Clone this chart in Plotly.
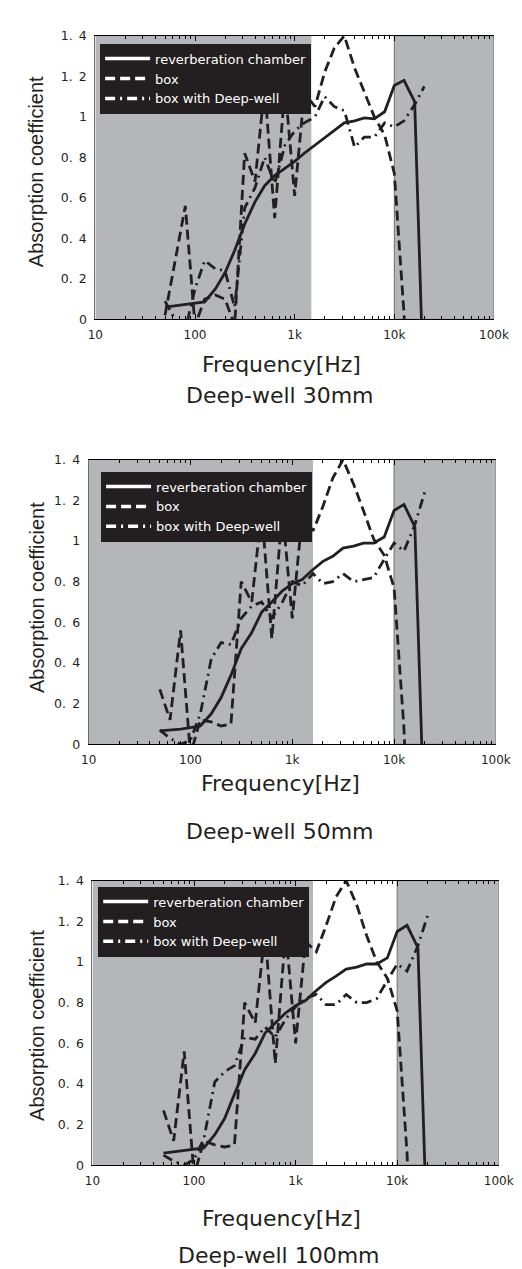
import plotly.graph_objects as go

# ---------------- data (1/3-octave band centre frequencies, Hz) ----------------
FREQ = [50, 63, 80, 100, 125, 160, 200, 250, 315, 400, 500, 630, 800, 1000,
        1250, 1600, 2000, 2500, 3150, 4000, 5000, 6300, 8000, 10000, 12500,
        16000, 20000]

# Deep-well 30mm
REVERB_30 = [0.06, 0.066, 0.072, 0.078, 0.086, 0.15, 0.23, 0.34, 0.47, 0.58,
             0.66, 0.71, 0.745, 0.78, 0.82, 0.86, 0.90, 0.935, 0.97, 0.98,
             0.995, 0.99, 1.025, 1.155, 1.18, 1.075, -0.46]
BOX_30 = [0.02, 0.28, 0.56, -0.03, 0.10, 0.12, 0.10, -0.03, 0.82, 0.68,
          1.15, 0.50, 1.15, 0.61, 1.12, 1.05, 1.22, 1.34, 1.40, 1.24,
          1.12, 1.00, 0.91, 0.72, 0.03, -1.0, None]
BOXDW_30 = [0.09, 0.0, -0.05, 0.15, 0.29, 0.25, 0.24, 0.06, 0.55, 0.65,
            0.80, 0.67, 0.86, 0.93, 0.97, 1.00, 1.10, 1.05, 1.03, 0.85,
            0.90, 0.90, 0.97, 0.95, 0.98, 1.06, 1.15]

# Deep-well 50mm
REVERB_50 = [0.066, 0.07, 0.075, 0.082, 0.09, 0.15, 0.23, 0.34, 0.47, 0.55,
             0.65, 0.70, 0.755, 0.79, 0.81, 0.86, 0.90, 0.925, 0.965, 0.975,
             0.99, 0.99, 1.02, 1.15, 1.18, 1.07, -0.46]
BOX_50 = [0.27, 0.12, 0.56, -0.05, 0.12, 0.11, 0.09, 0.10, 0.80, 0.70,
          1.15, 0.52, 1.15, 0.62, 1.12, 1.05, 1.17, 1.31, 1.40, 1.28,
          1.15, 1.01, 0.93, 0.77, 0.08, -1.2, None]
BOXDW_50 = [0.07, 0.03, 0.0, 0.02, 0.15, 0.42, 0.50, 0.49, 0.62, 0.68,
            0.70, 0.62, 0.70, 0.80, 0.78, 0.84, 0.79, 0.80, 0.84, 0.80,
            0.81, 0.82, 0.91, 0.99, 0.95, 1.08, 1.24]

# Deep-well 100mm
REVERB_100 = [0.06, 0.066, 0.072, 0.078, 0.085, 0.15, 0.23, 0.35, 0.47, 0.55,
              0.65, 0.70, 0.75, 0.785, 0.81, 0.86, 0.90, 0.93, 0.965, 0.975,
              0.99, 0.99, 1.02, 1.15, 1.18, 1.07, -0.46]
BOX_100 = [0.27, 0.12, 0.56, -0.05, 0.12, 0.10, 0.09, 0.10, 0.80, 0.70,
           1.15, 0.50, 1.15, 0.60, 1.10, 1.05, 1.18, 1.32, 1.40, 1.28,
           1.13, 1.00, 0.92, 0.76, 0.06, -1.2, None]
BOXDW_100 = [0.05, 0.02, 0.0, 0.03, 0.13, 0.41, 0.46, 0.49, 0.63, 0.62,
             0.68, 0.63, 0.72, 0.78, 0.82, 0.84, 0.79, 0.79, 0.84, 0.80,
             0.80, 0.82, 0.91, 0.99, 0.955, 1.08, 1.23]

PANEL_TITLES = ["Deep-well 30mm", "Deep-well 50mm", "Deep-well 100mm"]
SERIES_NAMES = ["reverberation chamber", "box", "box with Deep-well"]
REVERB = [REVERB_30, REVERB_50, REVERB_100]
BOX = [BOX_30, BOX_50, BOX_100]
BOXDW = [BOXDW_30, BOXDW_50, BOXDW_100]

X_TICK_VALS = [10, 100, 1000, 10000, 100000]
X_TICK_TEXT = ["10", "100", "1k", "10k", "100k"]
Y_TICK_VALS = [0, 0.2, 0.4, 0.6, 0.8, 1.0, 1.2, 1.4]
Y_TICK_TEXT = ["0", "0.\u20022", "0.\u20024", "0.\u20026", "0.\u20028", "1",
               "1.\u20022", "1.\u20024"]
X_TITLE = "Frequency[Hz]"
Y_TITLE = "Absorption coefficient"

# shaded (gray) frequency bands per panel: [low band end, high band start]
GRAY_LOW_END = [1470, 1600, 1485]
GRAY_HIGH_START = 10000

# ---------------- layout (pixel geometry) ----------------
W, H = 522, 1269
PANELS = [
    dict(l=83, r=500, t=20, b=307, leg=(88, 28), ytit=(21, 158), xtit=(278, 353), tit=(276, 384)),
    dict(l=76, r=502, t=449, b=737, leg=(89, 461), ytit=(22, 589), xtit=(277, 777), tit=(276, 825)),
    dict(l=80, r=505, t=875, b=1163, leg=(86, 881), ytit=(22, 1022), xtit=(278, 1217), tit=(275, 1254)),
]

INK = "#231f20"
GRAY = "#b5b6b9"
EDGE = "#6d6e71"
FONT = "DejaVu Sans"

fig = go.Figure()
annotations = []
shapes = []
minor_vals = [m * 10 ** e for e in range(1, 5) for m in range(2, 10)]

for i, p in enumerate(PANELS):
    n = "" if i == 0 else str(i + 1)
    xa, ya = "x" + n, "y" + n
    leg = "legend" + n

    styles = [
        (SERIES_NAMES[1], BOX[i], "10px,5px"),
        (SERIES_NAMES[2], BOXDW[i], "10px,5px,2px,5px"),
        (SERIES_NAMES[0], REVERB[i], "solid"),
    ]
    for name, vals, dash in styles:
        fig.add_trace(go.Scatter(
            x=FREQ, y=vals, mode="lines", name=name, showlegend=False,
            line=dict(color=INK, width=2.8, dash=dash),
            xaxis=xa, yaxis=ya, connectgaps=False, cliponaxis=True))
    # legend entries (white samples on black box)
    for name, dash in zip(SERIES_NAMES, ["solid", "10px,5px", "10px,5px,2px,5px"]):
        fig.add_trace(go.Scatter(
            x=[None], y=[None], mode="lines", name=name, legend=leg,
            line=dict(color="white", width=3.5, dash=dash),
            xaxis=xa, yaxis=ya, showlegend=True))

    xdom = [p["l"] / W, p["r"] / W]
    ydom = [1 - p["b"] / H, 1 - p["t"] / H]
    fig.layout["xaxis" + n] = dict(
        domain=xdom, anchor=ya, type="log", range=[1, 5],
        tickvals=X_TICK_VALS, ticktext=X_TICK_TEXT, ticks="inside", ticklen=5,
        tickcolor="black", showline=True, linecolor="black", linewidth=1.2,
        mirror="ticks", showgrid=False, zeroline=False,
        tickfont=dict(family=FONT, size=12, color=INK), ticklabelstandoff=4,
        minor=dict(ticks="inside", ticklen=3, tickcolor="black",
                   tickvals=minor_vals, showgrid=False),
    )
    fig.layout["yaxis" + n] = dict(
        domain=ydom, anchor=xa, range=[0, 1.4],
        tickvals=Y_TICK_VALS, ticktext=Y_TICK_TEXT, ticks="",
        showline=True, linecolor=EDGE, linewidth=1, showgrid=False, zeroline=False,
        tickfont=dict(family=FONT, size=12.5, color=INK), ticklabelstandoff=5,
    )
    fig.layout[leg] = dict(
        x=p["leg"][0] / W, y=1 - p["leg"][1] / H, xanchor="left", yanchor="top",
        bgcolor=INK, borderwidth=0, font=dict(family=FONT, size=13, color="white"),
        itemwidth=45, tracegroupgap=0, traceorder="normal",
    )

    shapes.append(dict(type="rect", xref=xa, yref=ya, x0=10, x1=GRAY_LOW_END[i],
                       y0=0, y1=1.4, fillcolor=GRAY, line=dict(width=0), layer="below"))
    shapes.append(dict(type="rect", xref=xa, yref=ya, x0=GRAY_HIGH_START, x1=100000,
                       y0=0, y1=1.4, fillcolor=GRAY, line=dict(color=EDGE, width=1),
                       layer="below"))

    annotations.append(dict(text=Y_TITLE, x=p["ytit"][0] / W, y=1 - p["ytit"][1] / H,
                            xref="paper", yref="paper", textangle=-90, showarrow=False,
                            xanchor="center", yanchor="middle",
                            font=dict(family="Liberation Sans", size=20, color=INK)))
    annotations.append(dict(text=X_TITLE, x=p["xtit"][0] / W, y=1 - p["xtit"][1] / H,
                            xref="paper", yref="paper", showarrow=False,
                            xanchor="center", yanchor="middle",
                            font=dict(family=FONT, size=22, color=INK)))
    annotations.append(dict(text=PANEL_TITLES[i], x=p["tit"][0] / W, y=1 - p["tit"][1] / H,
                            xref="paper", yref="paper", showarrow=False,
                            xanchor="center", yanchor="middle",
                            font=dict(family=FONT, size=22, color=INK)))

fig.update_layout(
    width=W, height=H, margin=dict(l=0, r=0, t=0, b=0),
    paper_bgcolor="white", plot_bgcolor="white",
    shapes=shapes, annotations=annotations, showlegend=True,
)

fig.write_html("out.html")
